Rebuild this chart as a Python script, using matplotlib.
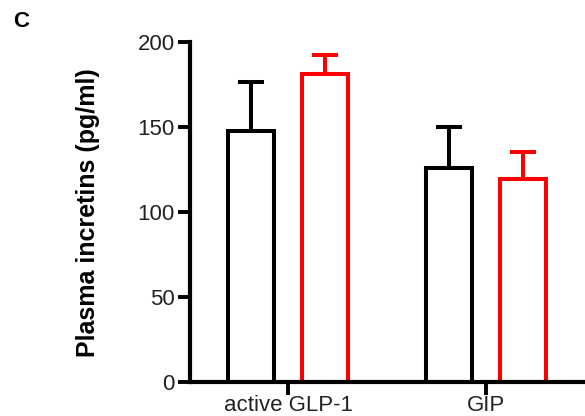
import matplotlib
matplotlib.use("Agg")
import matplotlib.pyplot as plt
import numpy as np

plt.rcParams.update({
    "font.family": ["Liberation Sans", "DejaVu Sans"],
    "axes.spines.top": False,
    "axes.spines.right": False,
})

# -- Data ---------------------------------------------------------------------
groups = ["active GLP-1", "GIP"]
ctrl_mean = [147.5, 125.5]
ctrl_err = [28.5, 24.5]
treat_mean = [181, 119]
treat_err = [11, 16]

# -- Figure -------------------------------------------------------------------
fig = plt.figure(figsize=(5.85, 4.16), dpi=100)
ax = fig.add_axes([0.325, 0.0825, 0.672, 0.8175])

x = np.arange(len(groups))
w = 0.232
off = 0.187
lw = 2.9

for xs, mean, err, col in [(x - off, ctrl_mean, ctrl_err, "black"),
                           (x + off, treat_mean, treat_err, "#ff0000")]:
    ax.bar(xs, mean, width=w, facecolor="white", edgecolor=col,
           linewidth=lw, zorder=2)
    ax.errorbar(xs, mean, yerr=[np.zeros(len(err)), err], fmt="none",
                ecolor=col, elinewidth=lw, capsize=9.5, capthick=lw,
                zorder=1)

ax.set_xlim(-0.495, 1.49)
ax.set_ylim(0, 200)
ax.set_yticks([0, 50, 100, 150, 200])
ax.set_xticks(x)
ax.set_xticklabels(groups, fontsize=16, color="#222222")
ax.tick_params(axis="y", labelsize=16, labelcolor="#222222", length=9,
               width=2.8, pad=2)
ax.tick_params(axis="x", length=9, width=2.8, pad=0.5)
for s in ("left", "bottom"):
    ax.spines[s].set_linewidth(3)

fig.text(88 / 585, 0.49, "Plasma incretins (pg/ml)", fontsize=18,
         fontweight="bold", rotation=90, ha="center", va="center")
fig.text(0.022, 0.935, "C", fontsize=16, fontweight="bold")

fig.savefig("out.png", dpi=100)
